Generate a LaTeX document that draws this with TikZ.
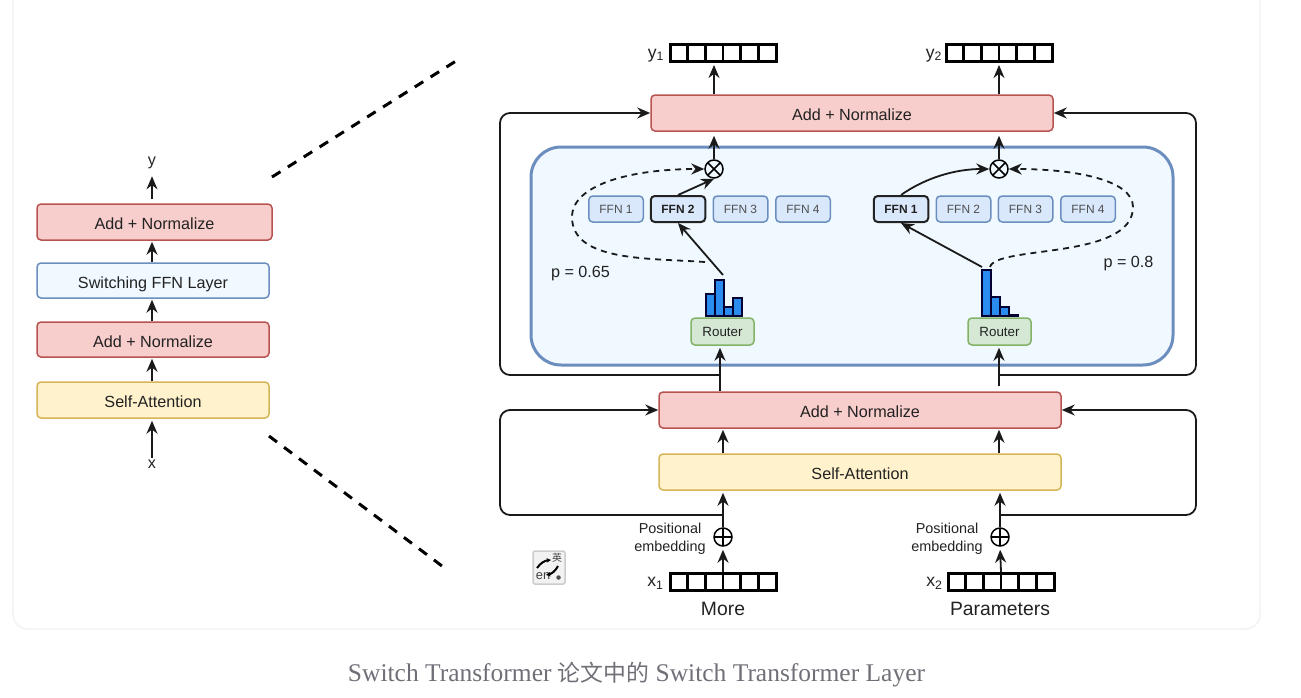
\documentclass[tikz,border=0pt]{standalone}
\usepackage{fontspec}
\setmainfont{Liberation Sans}
\newfontfamily\capfont{Liberation Serif}
\newfontfamily\cjkfont{Noto Sans CJK SC}
\usetikzlibrary{arrows.meta,calc}
\definecolor{inktext}{HTML}{222222}
\definecolor{captext}{HTML}{6F6F78}
\definecolor{cardline}{HTML}{F3F3F4}
\definecolor{flowline}{HTML}{1A1A1A}
\definecolor{boxredfill}{HTML}{F8CECC}
\definecolor{boxredline}{HTML}{B85450}
\definecolor{boxyellowfill}{HTML}{FFF2CC}
\definecolor{boxyellowline}{HTML}{D6B656}
\definecolor{boxswitchfill}{HTML}{EFF9FF}
\definecolor{boxbluefill}{HTML}{DAE8FC}
\definecolor{boxblueline}{HTML}{6C8EBF}
\definecolor{boxgreenfill}{HTML}{D5E8D4}
\definecolor{boxgreenline}{HTML}{82B366}
\definecolor{histfill}{HTML}{2B8CF0}
\tikzset{
  every node/.style={text=inktext},
  flowarrow/.style={draw=flowline, line width=0.036cm, -{Stealth[length=0.26cm,width=0.22cm]}},
  flowdash/.style={flowarrow, dash pattern=on 0.12cm off 0.1cm},
  zoomdash/.style={draw=black, line width=0.06cm, dash pattern=on 0.2cm off 0.175cm},
  stackbox/.style={draw, rectangle, rounded corners=0.08cm, line width=0.03cm, text height=0.33cm, text depth=0.03cm, font=\fontsize{9.2}{11}\selectfont},
  redbox/.style={stackbox, fill=boxredfill, draw=boxredline},
  yellowbox/.style={stackbox, fill=boxyellowfill, draw=boxyellowline},
  switchbox/.style={stackbox, fill=boxswitchfill, draw=boxblueline},
  ffnbox/.style={draw=boxblueline, fill=boxbluefill, rectangle, rounded corners=0.08cm, line width=0.03cm, minimum width=1.09cm, minimum height=0.52cm, inner sep=0pt, text=inktext!80!white, font=\fontsize{6.8}{8}\selectfont},
  ffnpick/.style={ffnbox, draw=inktext, line width=0.04cm, text=inktext, font=\fontsize{6.8}{8}\selectfont\bfseries},
  routerbox/.style={draw=boxgreenline, fill=boxgreenfill, rectangle, rounded corners=0.08cm, line width=0.03cm, minimum width=1.26cm, minimum height=0.54cm, inner sep=0pt, font=\fontsize{7.6}{9}\selectfont},
  histbar/.style={draw=black!80!blue, fill=histfill, line width=0.025cm},
  cellrow/.style={draw=black, rectangle, line width=0.06cm, minimum width=2.12cm, minimum height=0.34cm, inner sep=0pt,
    path picture={\foreach \cell in {1,...,5} \draw[line width=0.05cm] ($(path picture bounding box.south west)!\cell/6!(path picture bounding box.south east)$) -- ($(path picture bounding box.north west)!\cell/6!(path picture bounding box.north east)$);}},
  timescircle/.style={draw=black, circle, line width=0.03cm, minimum size=0.36cm, inner sep=0pt,
    path picture={\draw[line width=0.03cm] (path picture bounding box.south west) -- (path picture bounding box.north east) (path picture bounding box.north west) -- (path picture bounding box.south east);}},
  pluscircle/.style={draw=black, circle, line width=0.03cm, minimum size=0.36cm, inner sep=0pt,
    path picture={\draw[line width=0.03cm] (path picture bounding box.south) -- (path picture bounding box.north) (path picture bounding box.west) -- (path picture bounding box.east);}},
  plainlabel/.style={inner sep=0.04cm, font=\fontsize{9.2}{11}\selectfont},
  arraylabel/.style={inner sep=0pt, font=\fontsize{10}{12}\selectfont},
  wordlabel/.style={inner sep=0pt, font=\fontsize{11}{13}\selectfont},
  posnote/.style={align=center, inner sep=0pt, font=\fontsize{8.2}{10}\selectfont},
}
\begin{document}
\begin{tikzpicture}
    \useasboundingbox (0,0) rectangle (26.02,-13.94);
    \draw[cardline, line width=0.03cm, rounded corners=0.3cm] (0.26,0) -- (0.26,-12.58) -- (25.2,-12.58) -- (25.2,0);

    \node[switchbox, draw=boxblueline, line width=0.06cm, rounded corners=0.6cm, minimum width=12.84cm, minimum height=4.36cm] at (17.04,-5.12) (ffnlayer) {};

    \node[redbox, minimum width=4.7cm, minimum height=0.72cm] at (3.09,-4.44) (addb) {Add + Normalize};
    \node[switchbox, minimum width=4.64cm, minimum height=0.7cm] at (3.06,-5.61) (switchl) {Switching FFN Layer};
    \node[redbox, minimum width=4.64cm, minimum height=0.7cm] at (3.06,-6.79) (adda) {Add + Normalize};
    \node[yellowbox, minimum width=4.64cm, minimum height=0.72cm] at (3.06,-8.0) (selfl) {Self-Attention};
    \node[plainlabel] at (3.04,-3.26) (ylab) {y};
    \node[plainlabel] at (3.04,-9.29) (xlab) {x};

    \draw[flowarrow, shorten >=0.04cm] (xlab.north) -- (selfl.south -| xlab);
    \draw[flowarrow, shorten >=0.02cm] (selfl.north -| xlab) -- (adda.south -| xlab);
    \draw[flowarrow, shorten >=0.02cm] (adda.north -| xlab) -- (switchl.south -| xlab);
    \draw[flowarrow, shorten >=0.02cm] (switchl.north -| xlab) -- (addb.south -| xlab);
    \draw[flowarrow, shorten <=0.08cm, shorten >=0.1cm] (addb.north -| ylab) -- (ylab.south);

    \coordinate (zoomtopa) at (5.44,-3.54);
    \coordinate (zoomtopb) at (9.12,-1.22);
    \coordinate (zoombota) at (5.38,-8.72);
    \coordinate (zoombotb) at (8.84,-11.32);
    \draw[zoomdash] (zoomtopa) -- (zoomtopb);
    \draw[zoomdash] (zoombota) -- (zoombotb);

    \node[redbox, minimum width=8.04cm, minimum height=0.72cm] at (17.04,-2.26) (addt) {Add + Normalize};
    \node[redbox, minimum width=8.04cm, minimum height=0.72cm] at (17.2,-8.2) (addd) {Add + Normalize};
    \node[yellowbox, minimum width=8.04cm, minimum height=0.72cm] at (17.2,-9.44) (selfr) {Self-Attention};

    \node[cellrow] at (14.46,-1.06) (yarra) {};
    \node[cellrow] at (19.98,-1.06) (yarrb) {};
    \node[arraylabel] at (13.12,-1.11) (yonelab) {y\textsubscript{1}};
    \node[arraylabel] at (18.68,-1.11) (ytwolab) {y\textsubscript{2}};
    \node[cellrow] at (14.46,-11.64) (xarra) {};
    \node[cellrow] at (20.02,-11.64) (xarrb) {};
    \node[arraylabel] at (13.11,-11.67) (xonelab) {x\textsubscript{1}};
    \node[arraylabel] at (18.69,-11.67) (xtwolab) {x\textsubscript{2}};
    \node[wordlabel] at (14.46,-12.18) (morelab) {More};
    \node[wordlabel] at (20.0,-12.18) (paramlab) {Parameters};

    \node[timescircle] at (14.28,-3.38) (otimesl) {};
    \node[timescircle] at (19.98,-3.38) (otimesr) {};
    \node[pluscircle] at (14.46,-10.74) (oplusa) {};
    \node[pluscircle] at (20.0,-10.74) (oplusb) {};
    \node[posnote] at (13.4,-10.78) (posa) {Positional\\embedding};
    \node[posnote] at (18.94,-10.78) (posb) {Positional\\embedding};

    \node[ffnbox] at (12.32,-4.18) (ffnla) {FFN 1};
    \node[ffnpick] at (13.56,-4.18) (ffnlb) {FFN 2};
    \node[ffnbox] at (14.81,-4.18) (ffnlc) {FFN 3};
    \node[ffnbox] at (16.06,-4.18) (ffnld) {FFN 4};
    \node[ffnpick] at (18.02,-4.18) (ffnra) {FFN 1};
    \node[ffnbox] at (19.27,-4.18) (ffnrb) {FFN 2};
    \node[ffnbox] at (20.51,-4.18) (ffnrc) {FFN 3};
    \node[ffnbox] at (21.76,-4.18) (ffnrd) {FFN 4};

    \foreach \barx/\barh in {14.12/0.44, 14.3/0.72, 14.48/0.18, 14.66/0.36, 19.64/0.92, 19.82/0.38, 20.0/0.18, 20.18/0.02}
      \draw[histbar] (\barx,-6.32) rectangle ++(0.18,\barh);

    \node[routerbox] at (14.45,-6.63) (routera) {Router};
    \node[routerbox] at (19.99,-6.63) (routerb) {Router};
    \node[plainlabel, inner sep=0pt] at (11.61,-5.47) (pa) {p = 0.65};
    \node[plainlabel, inner sep=0pt] at (22.57,-5.27) (pb) {p = 0.8};

    \coordinate (hista) at (14.46,-5.5);
    \coordinate (histb) at (19.64,-5.34);
    \coordinate (dashfroma) at (14.1,-5.24);
    \coordinate (dashfromb) at (19.8,-5.34);
    \coordinate (loopa) at (14.4,-7.5);
    \coordinate (loopb) at (19.98,-7.5);
    \coordinate (loopc) at (14.46,-10.3);
    \coordinate (loopd) at (20.0,-10.3);
    \coordinate (railtl) at (10,-2.26);
    \coordinate (railtr) at (23.92,-2.26);
    \coordinate (raildl) at (10,-8.2);
    \coordinate (raildr) at (23.92,-8.2);
    \coordinate (iconarrowa) at (10.74,-11.36);
    \coordinate (iconarrowb) at (11.02,-11.2);
    \coordinate (iconarrowc) at (11.16,-11.32);
    \coordinate (iconarrowd) at (10.92,-11.5);

    \draw[flowarrow, shorten >=0.06cm] (xarra.north) -- (oplusa.south);
    \draw[flowarrow, shorten >=0.06cm] (xarrb.north) -- (oplusb.south);
    \draw[flowarrow, shorten >=0.04cm] (oplusa.north) -- (selfr.south -| oplusa);
    \draw[flowarrow, shorten >=0.04cm] (oplusb.north) -- (selfr.south -| oplusb);
    \draw[flowarrow, shorten >=0.02cm] (selfr.north -| oplusa) -- (addd.south -| oplusa);
    \draw[flowarrow, shorten >=0.02cm] (selfr.north -| loopb) -- (addd.south -| loopb);
    \draw[flowarrow, shorten >=0.04cm] (addd.north -| loopa) -- (routera.south -| loopa);
    \draw[flowarrow, shorten <=0.1cm, shorten >=0.04cm] (addd.north -| loopb) -- (routerb.south -| loopb);
    \draw[flowarrow, rounded corners=0.2cm] (loopa) -| (railtl) -- (addt.west);
    \draw[flowarrow, rounded corners=0.2cm] (loopb) -| (railtr) -- (addt.east);
    \draw[flowarrow, rounded corners=0.2cm] (loopc) -| (raildl) -- (addd.west);
    \draw[flowarrow, rounded corners=0.2cm] (loopd) -| (raildr) -- (addd.east);

    \draw[flowarrow, shorten >=0.08cm] (otimesl.north) -- (addt.south -| otimesl);
    \draw[flowarrow, shorten >=0.08cm] (otimesr.north) -- (addt.south -| otimesr);
    \draw[flowarrow, shorten >=0.04cm] (addt.north -| otimesl) -- (yarra.south -| otimesl);
    \draw[flowarrow, shorten >=0.04cm] (addt.north -| otimesr) -- (yarrb.south -| otimesr);

    \draw[flowarrow] (hista) -- (ffnlb.south);
    \draw[flowarrow] (histb) -- (ffnra.south);
    \draw[flowarrow] (ffnlb.north) -- (otimesl.south);
    \draw[flowarrow] (ffnra.north) .. controls (18.5,-3.56) and (19.1,-3.38) .. (otimesr.west);
    \draw[flowdash] (dashfroma) .. controls (13.0,-5.16) and (11.44,-5.24) .. (11.44,-4.34) .. controls (11.44,-3.7) and (12.6,-3.38) .. (otimesl.west);
    \draw[flowdash] (dashfromb) .. controls (19.92,-4.9) and (22.66,-5.2) .. (22.66,-4.14) .. controls (22.66,-3.6) and (21.5,-3.38) .. (otimesr.east);

    \node[draw=black!20, fill=black!5, rectangle, rounded corners=0.04cm, line width=0.03cm, minimum width=0.64cm, minimum height=0.66cm] at (10.98,-11.35) (icon) {};
    \node[inner sep=0pt, text=black!75, font=\fontsize{7.3}{8}\selectfont] at (10.86,-11.53) (iconen) {en};
    \node[inner sep=0pt, text=black!75, font=\fontsize{5.6}{6}\cjkfont] at (11.14,-11.16) (iconzh) {英};
    \node[fill=black!70, circle, inner sep=0pt, minimum size=0.09cm] at (11.17,-11.55) (icondot) {};
    \draw[line width=0.04cm, -{Stealth[length=0.09cm,width=0.09cm]}] (iconarrowa) to[bend left=25] (iconarrowb);
    \draw[line width=0.04cm, -{Stealth[length=0.09cm,width=0.09cm]}] (iconarrowc) to[bend left=25] (iconarrowd);

    \node[inner sep=0pt, text=captext, font=\fontsize{14.5}{17}\capfont] at (12.73,-13.5) (caption) {Switch Transformer {\cjkfont\fontsize{13}{17}\selectfont 论文中的} Switch Transformer Layer};
  \end{tikzpicture}
\end{document}
